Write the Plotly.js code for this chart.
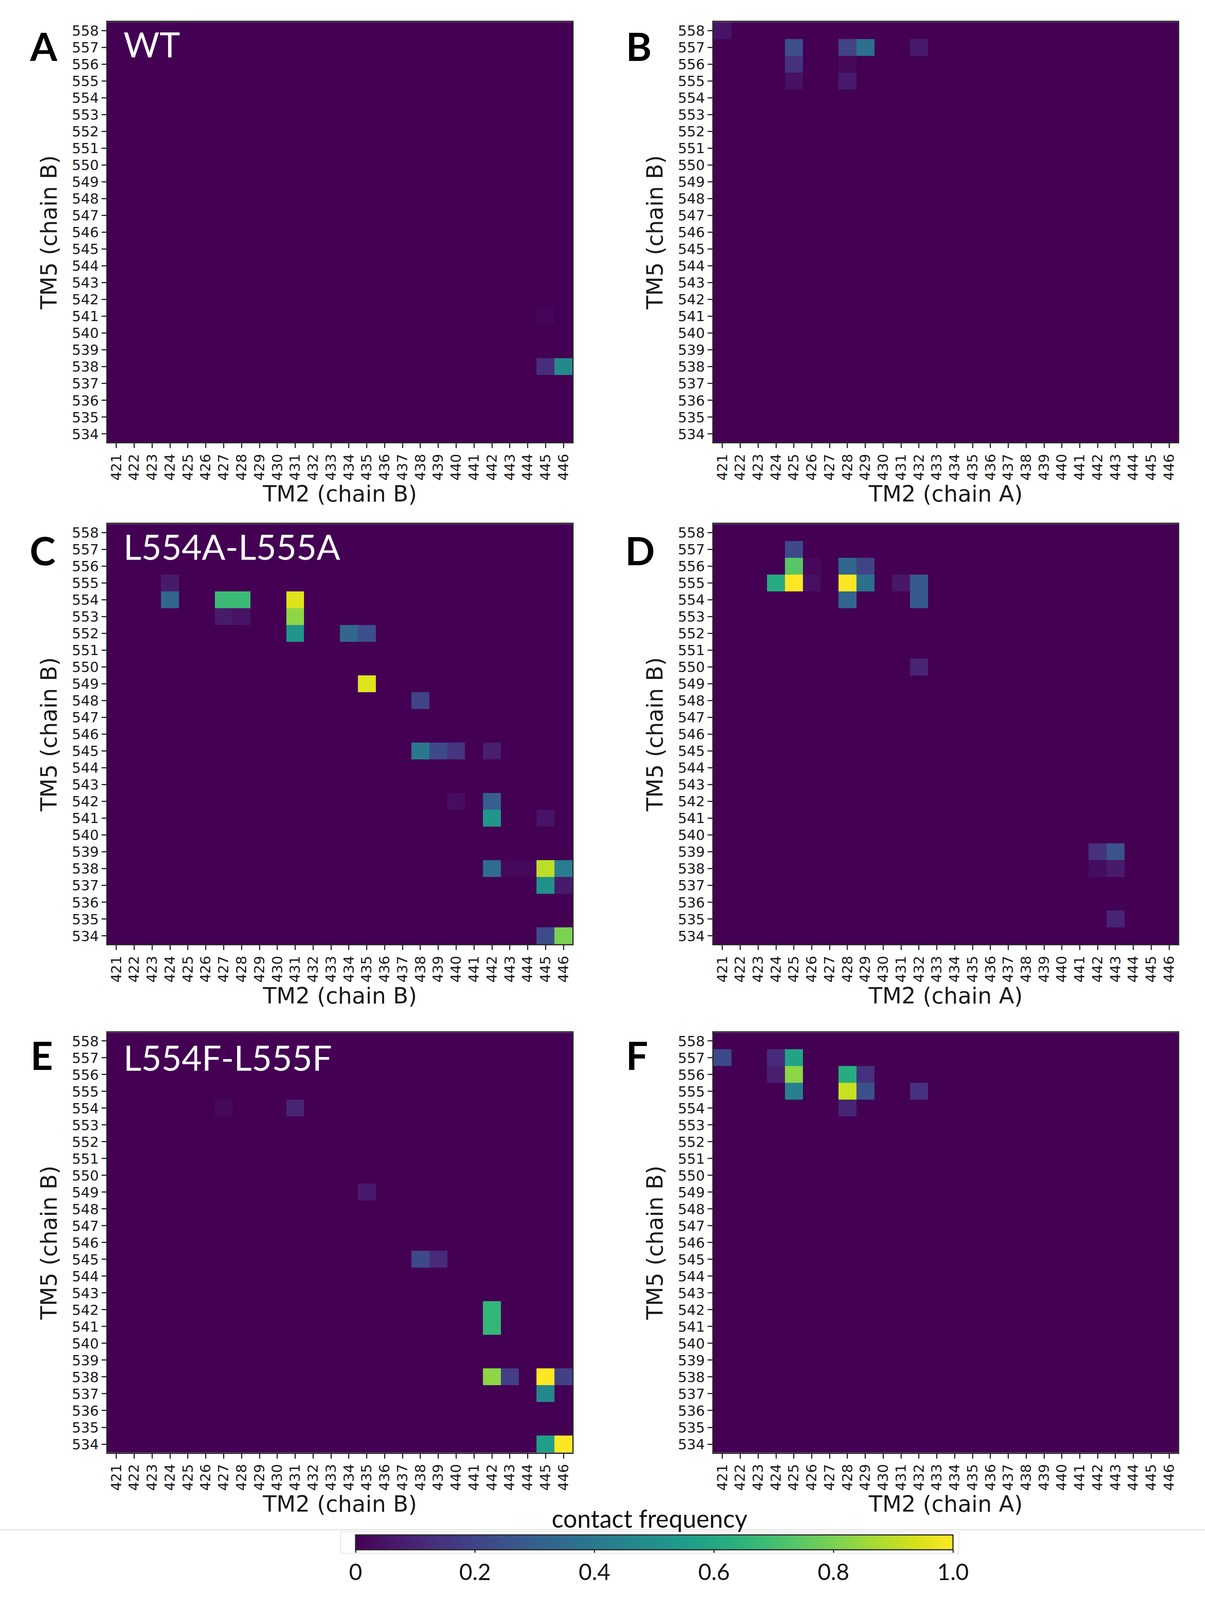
<!DOCTYPE html>
<html>
<head>
<meta charset="utf-8">
<script src="https://cdn.plot.ly/plotly-3.0.1.min.js"></script>
<style>html,body{margin:0;padding:0;background:#fff;overflow:hidden}</style>
</head>
<body>
<div id="chart"></div>
<script>
const REF_H = 4351;
const W = 3084;
const H = Math.min(REF_H, window.innerHeight || REF_H);
const k = H / REF_H;
const py = v => 1 - v * k / H;   /* reference pixel row -> paper fraction */

const tm2 = [421,422,423,424,425,426,427,428,429,430,431,432,433,434,435,436,437,438,439,440,441,442,443,444,445,446];
const tm5 = [534,535,536,537,538,539,540,541,542,543,544,545,546,547,548,549,550,551,552,553,554,555,556,557,558];

const panelA_x = [445,446,445];
const panelA_y = [538,538,541];
const panelA_v = [0.13,0.47,0.015];

const panelB_x = [421,425,428,429,432,425,428,425,428];
const panelB_y = [558,557,557,557,557,556,556,555,555];
const panelB_v = [0.05,0.24,0.20,0.37,0.07,0.14,0.02,0.04,0.07];

const panelC_x = [424,424,427,428,431,431,431,427,428,434,435,435,438,438,439,440,442,440,442,442,445,442,443,444,445,446,445,446,445,446];
const panelC_y = [555,554,554,554,554,553,552,553,553,552,552,549,548,545,545,545,545,542,542,541,541,538,538,538,538,538,537,537,534,534];
const panelC_v = [0.07,0.33,0.68,0.68,0.95,0.83,0.52,0.07,0.05,0.33,0.24,0.95,0.20,0.40,0.22,0.15,0.08,0.03,0.30,0.52,0.05,0.35,0.02,0.02,0.90,0.42,0.50,0.07,0.23,0.80];

const panelD_x = [425,425,426,428,429,424,425,426,428,429,431,432,428,432,432,442,443,442,443,443];
const panelD_y = [557,556,556,556,556,555,555,555,555,555,555,555,554,554,550,539,539,538,538,535];
const panelD_v = [0.22,0.74,0.02,0.33,0.20,0.62,1.00,0.04,1.00,0.37,0.06,0.28,0.32,0.28,0.10,0.14,0.25,0.03,0.07,0.10];

const panelE_x = [427,431,435,438,439,442,442,442,443,445,446,445,445,446];
const panelE_y = [554,554,549,545,545,542,541,538,538,538,538,537,534,534];
const panelE_v = [0.02,0.10,0.07,0.22,0.12,0.66,0.66,0.83,0.18,1.00,0.19,0.46,0.56,1.00];

const panelF_x = [421,424,425,424,425,428,429,425,428,429,432,428];
const panelF_y = [557,557,557,556,556,556,556,555,555,555,555,554];
const panelF_v = [0.22,0.12,0.58,0.08,0.83,0.62,0.14,0.43,0.92,0.24,0.14,0.10];

const cbTicks = [0,0.2,0.4,0.6,0.8,1];
const cbLabels = ['0','0.2','0.4','0.6','0.8','1.0'];

const panels = [
  {xs:panelA_x, ys:panelA_y, vs:panelA_v, l:275, r:1465, t:60,   b:1203, xt:'TM2 (chain B)', letter:'A', lx:74,   ly:124,  name:'WT', ny:120},
  {xs:panelB_x, ys:panelB_y, vs:panelB_v, l:1826,r:3015, t:60,   b:1203, xt:'TM2 (chain A)', letter:'B', lx:1600, ly:124},
  {xs:panelC_x, ys:panelC_y, vs:panelC_v, l:275, r:1465, t:1425, b:2568, xt:'TM2 (chain B)', letter:'C', lx:74,   ly:1496, name:'L554A-L555A', ny:1486},
  {xs:panelD_x, ys:panelD_y, vs:panelD_v, l:1826,r:3015, t:1425, b:2568, xt:'TM2 (chain A)', letter:'D', lx:1598, ly:1496},
  {xs:panelE_x, ys:panelE_y, vs:panelE_v, l:275, r:1465, t:2808, b:3950, xt:'TM2 (chain B)', letter:'E', lx:76,   ly:2868, name:'L554F-L555F', ny:2875},
  {xs:panelF_x, ys:panelF_y, vs:panelF_v, l:1826,r:3015, t:2808, b:3950, xt:'TM2 (chain A)', letter:'F', lx:1600, ly:2868}
];

document.getElementById('chart').style.cssText = 'width:'+W+'px;height:'+H+'px';

const tickFont = {family:'DejaVu Sans', size:36, color:'#1a1a1a'};
const titleFont = {family:'DejaVu Sans', size:57, color:'#1a1a1a'};
const layout = {
  width:W, height:H, autosize:false, showlegend:false,
  paper_bgcolor:'#fff', plot_bgcolor:'#440154',
  margin:{l:0,r:0,t:0,b:0,pad:0,autoexpand:false},
  coloraxis:{
    cmin:0, cmax:1, colorscale:'Viridis',
    colorbar:{
      orientation:'h', lenmode:'pixels', len:1529, thickness:38, thicknessmode:'pixels',
      xref:'paper', yref:'paper',
      x:910/W, xanchor:'left', y:1-(4217*k+89)/H, yanchor:'bottom', xpad:0, ypad:0,
      outlinewidth:3, outlinecolor:'#2a2a2a',
      tickmode:'array', tickvals:cbTicks, ticktext:cbLabels,
      ticks:'outside', ticklen:7, tickwidth:3, tickcolor:'#2a2a2a',
      tickfont:{family:'Lato', size:58, color:'#111'}
    }
  },
  annotations:[
    {xref:'paper', yref:'paper', x:1662/W, y:py(4128), xanchor:'center', yanchor:'middle', showarrow:false,
     text:'contact frequency', font:{family:'Lato', size:63, color:'#111'}}
  ],
  shapes:[
    {type:'line', xref:'paper', yref:'paper', x0:0, x1:1, y0:py(4160), y1:py(4160), line:{color:'#d9d9d9', width:2}, layer:'below'},
    {type:'rect', xref:'paper', yref:'paper', x0:872/W, x1:2454/W, y0:py(4224), y1:py(4165), line:{color:'#e4e4e4', width:2}, fillcolor:'rgba(0,0,0,0)', layer:'below'}
  ]
};
const data = [];
panels.forEach((p,i)=>{
  const s = i===0 ? '' : String(i+1);
  const z = tm5.map(()=>tm2.map(()=>0));
  p.xs.forEach((x,j)=>{ z[tm5.indexOf(p.ys[j])][tm2.indexOf(x)] = p.vs[j]; });
  data.push({type:'heatmap', x:tm2, y:tm5, z:z, coloraxis:'coloraxis', xaxis:'x'+s, yaxis:'y'+s});
  layout['xaxis'+s] = {
    domain:[p.l/W,p.r/W], range:[420.5,446.5], anchor:'y'+s, showgrid:false, zeroline:false,
    showline:true, mirror:true, linecolor:'#2a2a2a', linewidth:3,
    tickmode:'array', tickvals:tm2, ticktext:tm2.map(String), tickangle:-90,
    ticks:'outside', ticklen:12, tickwidth:3, tickcolor:'#2a2a2a', tickfont:tickFont,
    title:{text:p.xt, font:titleFont, standoff:12}
  };
  layout['yaxis'+s] = {
    domain:[py(p.b),py(p.t)], range:[533.5,558.5], anchor:'x'+s, showgrid:false, zeroline:false,
    showline:true, mirror:true, linecolor:'#2a2a2a', linewidth:3,
    tickmode:'array', tickvals:tm5, ticktext:tm5.map(String),
    ticks:'outside', ticklen:12, tickwidth:3, tickcolor:'#2a2a2a', tickfont:tickFont,
    title:{text:'TM5 (chain B)', font:titleFont, standoff:21}
  };
  layout.annotations.push({xref:'paper', yref:'paper', x:p.lx/W, y:py(p.ly), xanchor:'left', yanchor:'middle', showarrow:false,
    text:'<b>'+p.letter+'</b>', font:{family:'Lato', size:100, color:'#000'}});
  if(p.name) layout.annotations.push({xref:'paper', yref:'paper', x:314/W, y:py(p.ny), xanchor:'left', yanchor:'middle', showarrow:false,
    text:p.name, font:{family:'Lato', size:89, color:'#fff'}});
});
Plotly.newPlot('chart', data, layout, {displayModeBar:false, responsive:false});
</script>
</body>
</html>
